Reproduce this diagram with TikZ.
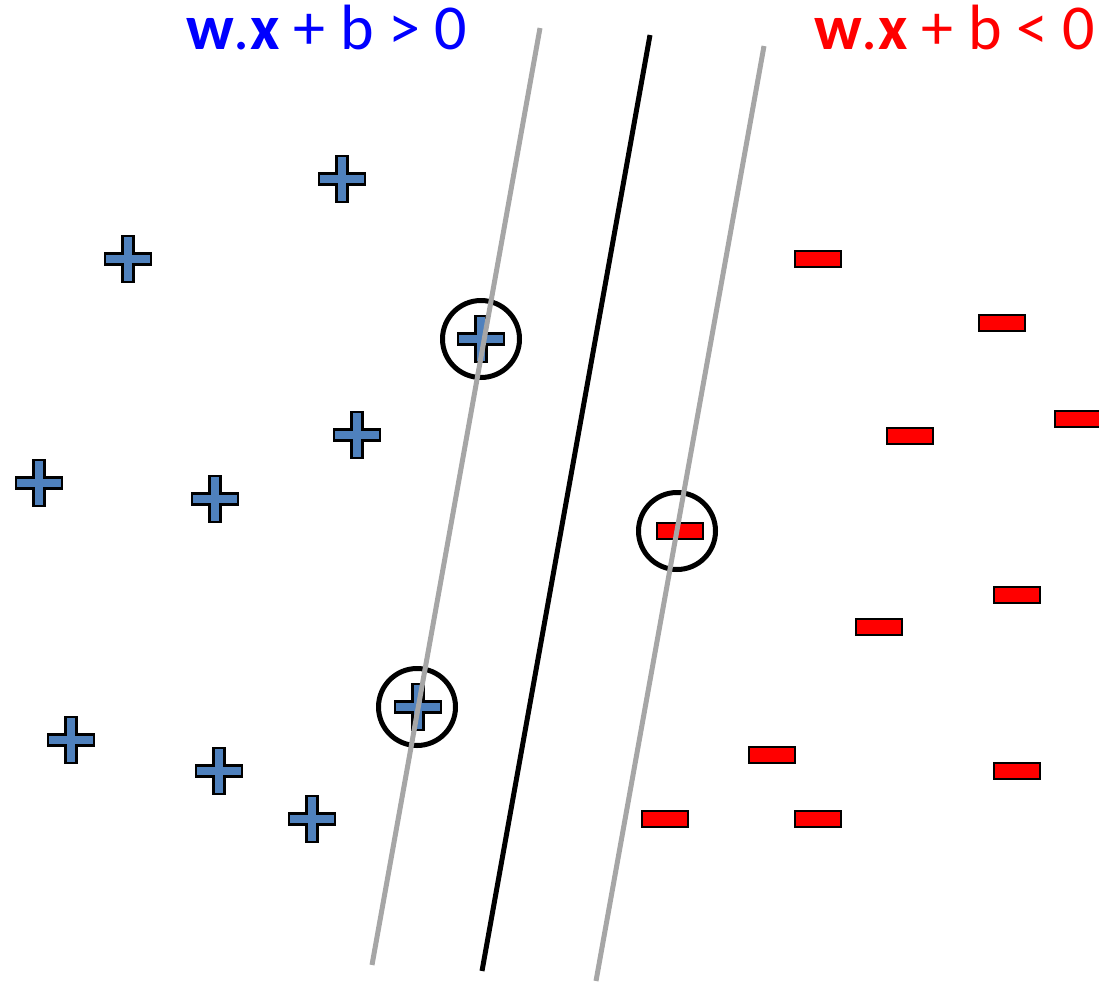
\documentclass[tikz,border=0pt]{standalone}
\usepackage{fontspec}
\setmainfont{Carlito}
\begin{document}
\begin{tikzpicture}[x=1pt,y=-1pt,
  plusfill/.style={fill={rgb,255:red,79;green,129;blue,189},draw=black,line width=2.2pt,line join=miter},
  minusfill/.style={fill=red,draw=black,line width=2.2pt},
  sv/.style={draw=black,line width=5pt,circle,minimum size=77pt,inner sep=0pt},
  margin/.style={draw={rgb,255:red,166;green,166;blue,166},line width=5pt},
  hyper/.style={draw=black,line width=5pt},
  lbl/.style={inner sep=0pt,anchor=base west,font=\fontsize{64}{78}\selectfont},
  pics/plussign/.style={code={
    \path[plusfill] (-5.5,-23) -- (5.5,-23) -- (5.5,-5.5) -- (23,-5.5) -- (23,5.5) -- (5.5,5.5) -- (5.5,23) -- (-5.5,23) -- (-5.5,5.5) -- (-23,5.5) -- (-23,-5.5) -- (-5.5,-5.5) -- cycle;}},
  pics/minussign/.style={code={
    \path[minusfill] (-23,-8) rectangle (23,8);}}
]
\useasboundingbox (0,0) rectangle (1099,982);
\begin{scope}
\clip (0,0) rectangle (1099,982);
% labels
\node[lbl,text=blue] (lp) at (186,50) {\textbf{w}.\textbf{x} + b > 0};
\node[lbl,text=red] (ln) at (814,50) {\textbf{w}.\textbf{x} + b < 0};
% support vector circles
\node[sv] (s1) at (481,339) {};
\node[sv] (s2) at (417,707) {};
\node[sv] (s3) at (677,531) {};
% plus points
\foreach \p in {(342,179),(128,259),(481,339),(357,435),(39,483),(215,499),(418,707),(71,740),(219,771),(312,819)}
  \pic at \p {plussign};
% minus points
\foreach \p in {(818,259),(1002,323),(910,436),(1078,419),(680,531),(1017,595),(879,627),(772,755),(1017,771),(665,819),(818,819)}
  \pic at \p {minussign};
% lines
\coordinate (g1a) at (540,28);
\coordinate (g1b) at (372,965);
\coordinate (ha) at (650,35);
\coordinate (hb) at (482,971);
\coordinate (g2a) at (764,46);
\coordinate (g2b) at (596,981);
\draw[margin] (g1a) -- (g1b);
\draw[hyper] (ha) -- (hb);
\draw[margin] (g2a) -- (g2b);
\end{scope}
\end{tikzpicture}
\end{document}
